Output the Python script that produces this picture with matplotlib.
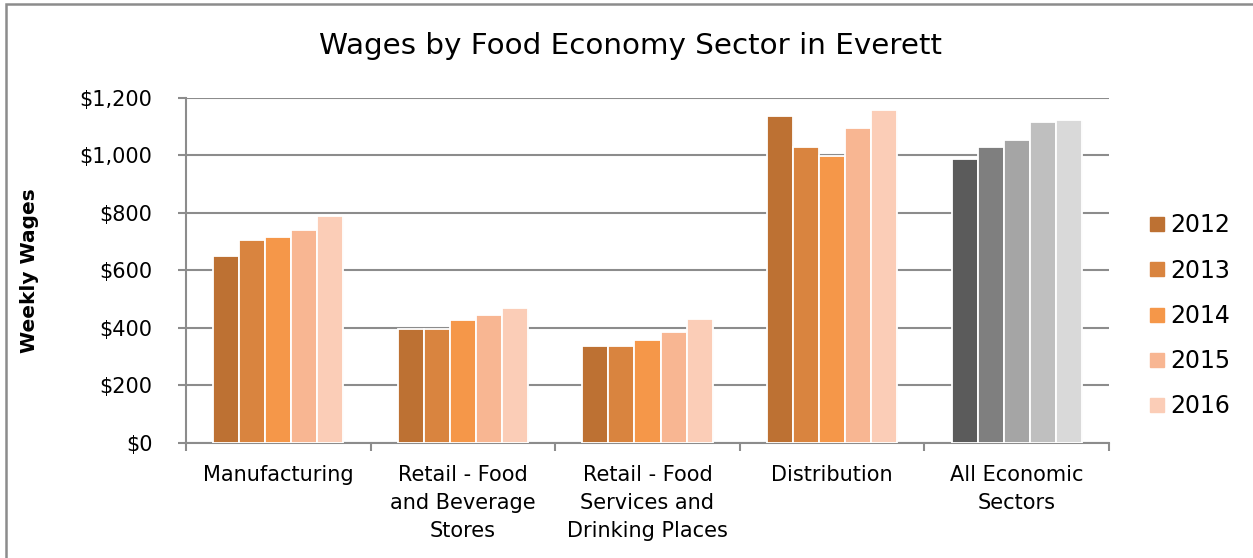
import numpy as np
import matplotlib.pyplot as plt
from matplotlib.patches import Rectangle
from matplotlib.lines import Line2D
from matplotlib.ticker import FuncFormatter, FixedLocator

plt.rcParams['font.family'] = ['DejaVu Sans']

sectors = ["Manufacturing", "Retail - Food\nand Beverage\nStores",
           "Retail - Food\nServices and\nDrinking Places", "Distribution",
           "All Economic\nSectors"]
years = ["2012", "2013", "2014", "2015", "2016"]

# weekly wages per sector, one value per year (2012..2016)
manufacturing = [649, 707, 717, 742, 790]
retail_stores = [396, 398, 429, 446, 468]
retail_services = [336, 339, 358, 387, 431]
distribution = [1137, 1030, 999, 1097, 1157]
all_sectors = [989, 1028, 1053, 1117, 1125]

orange_colors = ["#BD7133", "#D9843F", "#F59749", "#F8B692", "#FBCDB7"]
gray_colors = ["#5B5B5B", "#7F7F7F", "#A5A5A5", "#BFBFBF", "#D9D9D9"]

data = [manufacturing, retail_stores, retail_services, distribution, all_sectors]

fig = plt.figure(figsize=(12.53, 5.58), dpi=100)
ax = fig.add_axes([0.1484, 0.2061, 0.8851 - 0.1484, 0.8244 - 0.2061])

grid_col = "#8C8C8C"
x = np.arange(len(sectors))
bw = 0.141
for i, vals in enumerate(data):
    cols = gray_colors if i == len(data) - 1 else orange_colors
    for j, v in enumerate(vals):
        xpos = x[i] + (j - 2) * bw
        # faint shadow behind each bar
        ax.bar(xpos + 0.006, v, bw, bottom=-4, color="#000000", alpha=0.06, zorder=2)
        ax.bar(xpos, v, bw, color=cols[j], edgecolor="white", linewidth=1.3, zorder=3)

ax.set_xlim(-0.5, len(sectors) - 0.5)
ax.set_ylim(0, 1200)
ax.yaxis.set_major_locator(FixedLocator(np.arange(0, 1201, 200)))
ax.yaxis.set_major_formatter(FuncFormatter(lambda v, p: f"${v:,.0f}"))
ax.grid(axis="y", color=grid_col, linewidth=1.5, zorder=0)
ax.set_axisbelow(True)

ax.set_xticks(x)
ax.set_xticklabels(sectors, fontsize=15, linespacing=1.5, va="top")
ax.set_xticks(np.arange(-0.5, len(sectors)), minor=True)
ax.tick_params(axis="x", which="major", length=0, pad=16)
ax.tick_params(axis="x", which="minor", length=6, width=1.5, color=grid_col)
ax.tick_params(axis="y", length=6, width=1.5, color=grid_col, labelsize=15, pad=18)

for s in ["top", "right"]:
    ax.spines[s].set_visible(False)
for s in ["left", "bottom"]:
    ax.spines[s].set_color(grid_col)
    ax.spines[s].set_linewidth(1.5)

ax.set_ylabel("Weekly Wages", fontsize=14.5, fontweight="bold", labelpad=29)

fig.text(0.503, 0.918, "Wages by Food Economy Sector in Everett",
         fontsize=21.2, ha="center", va="center")

handles = [Line2D([], [], marker="s", linestyle="none", markersize=10,
                  markerfacecolor=c, markeredgecolor=c) for c in orange_colors]
fig.legend(handles, years, loc="center left", bbox_to_anchor=(0.8985, 0.434),
           frameon=False, fontsize=17, handletextpad=0.2, labelspacing=0.9,
           handlelength=0.8)

fig.patches.append(Rectangle((6 / 1253, -0.1), 1.2, 1 - 4.5 / 558 + 0.1,
                             transform=fig.transFigure, fill=False,
                             edgecolor="#8C8C8C", linewidth=1.8))

fig.savefig("out.png", dpi=100)
